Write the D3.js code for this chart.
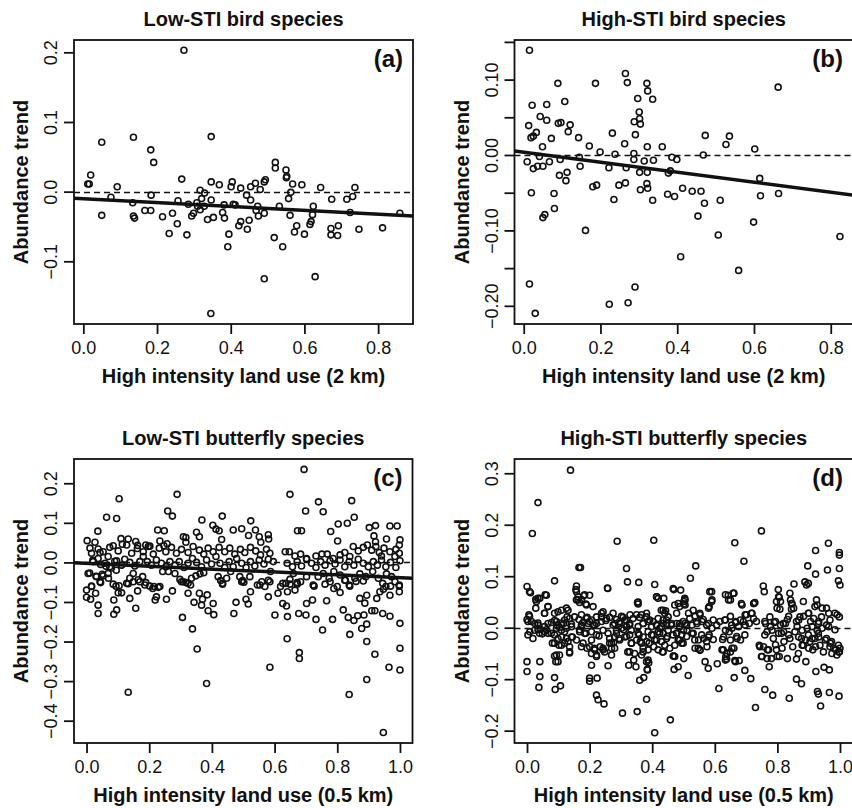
<!DOCTYPE html>
<html>
<head>
<meta charset="utf-8">
<script src="https://cdn.jsdelivr.net/npm/d3@7"></script>
<style>
  body { margin: 0; background: white; }
  svg { display: block; font-family: "Liberation Sans", Arial, Helvetica, sans-serif; }
</style>
</head>
<body>
<script>

// ---- data ----
var titles = ["Low-STI bird species", "High-STI bird species", "Low-STI butterfly species", "High-STI butterfly species"];
var tags = ["(a)", "(b)", "(c)", "(d)"];
var xLabels = ["High intensity land use (2 km)", "High intensity land use (2 km)",
               "High intensity land use (0.5 km)", "High intensity land use (0.5 km)"];
var yLabel = "Abundance trend";

var xTicksBird = [0, 0.2, 0.4, 0.6, 0.8];
var xTicksFly = [0, 0.2, 0.4, 0.6, 0.8, 1.0];
var yTicksA = [-0.1, 0, 0.1, 0.2];
var yTicksB = [-0.20, -0.15, -0.10, -0.05, 0, 0.05, 0.10, 0.15];
var yLabelledB = [-0.20, -0.10, 0, 0.10];
var yTicksC = [-0.4, -0.3, -0.2, -0.1, 0, 0.1, 0.2];
var yTicksD = [-0.2, -0.1, 0, 0.1, 0.2, 0.3];

// fitted lines: [intercept, slope]; panel d has none
var fitA = [-0.0102, -0.0277];
var fitB = [0.0038, -0.0665];
var fitC = [-0.0023, -0.0366];

var lowBird = [
[0.273,0.203],[0.050,0.071],[0.136,0.078],[0.347,0.079],[0.183,0.060],[0.191,0.042],[0.020,0.024],[0.012,0.011],[0.016,0.011],[0.092,0.007],
[0.267,0.018],[0.521,0.042],[0.521,0.034],[0.550,0.031],[0.552,0.022],[0.551,0.020],[0.568,0.011],[0.593,0.010],[0.644,0.006],[0.737,0.006],
[0.731,-0.007],[0.715,-0.011],[0.674,-0.011],[0.347,0.014],[0.369,0.010],[0.404,0.014],[0.401,0.007],[0.427,0.005],[0.454,0.007],[0.467,0.012],
[0.480,0.003],[0.491,0.014],[0.494,0.017],[0.317,0.002],[0.329,-0.002],[0.443,-0.005],[0.184,-0.005],[0.075,-0.008],[0.557,-0.010],[0.563,-0.001],
[0.134,-0.016],[0.050,-0.034],[0.136,-0.035],[0.139,-0.038],[0.167,-0.027],[0.183,-0.027],[0.215,-0.036],[0.242,-0.031],[0.255,-0.046],[0.233,-0.060],
[0.257,-0.013],[0.281,-0.062],[0.285,-0.018],[0.294,-0.035],[0.299,-0.031],[0.308,-0.016],[0.321,-0.010],[0.317,-0.026],[0.328,-0.021],[0.337,-0.040],
[0.347,-0.012],[0.353,-0.037],[0.382,-0.019],[0.378,-0.030],[0.383,-0.038],[0.395,-0.061],[0.392,-0.079],[0.407,-0.018],[0.412,-0.019],[0.422,-0.049],
[0.427,-0.043],[0.454,-0.012],[0.450,-0.041],[0.445,-0.054],[0.473,-0.021],[0.469,-0.027],[0.475,-0.035],[0.491,-0.031],[0.491,-0.125],[0.518,-0.066],
[0.532,-0.021],[0.541,-0.079],[0.561,-0.034],[0.579,-0.049],[0.573,-0.058],[0.600,-0.061],[0.624,-0.021],[0.622,-0.033],[0.618,-0.043],[0.615,-0.047],
[0.629,-0.122],[0.672,-0.053],[0.672,-0.062],[0.692,-0.049],[0.690,-0.063],[0.724,-0.030],[0.748,-0.054],[0.812,-0.052],[0.859,-0.031],[0.346,-0.175],
[0.310,-0.021]
];

var highBird = [
[0.015,0.139],[0.089,0.095],[0.187,0.095],[0.265,0.108],[0.270,0.096],[0.321,0.095],[0.323,0.085],[0.336,0.074],[0.297,0.075],[0.663,0.090],
[0.022,0.066],[0.060,0.067],[0.107,0.071],[0.043,0.051],[0.060,0.046],[0.090,0.042],[0.097,0.043],[0.121,0.040],[0.116,0.031],[0.013,0.039],
[0.019,0.023],[0.025,0.025],[0.033,0.030],[0.072,0.022],[0.049,0.011],[0.143,0.023],[0.171,0.012],[0.199,0.004],[0.231,0.029],[0.238,0.001],
[0.263,0.015],[0.288,0.044],[0.301,0.057],[0.302,0.048],[0.304,0.041],[0.291,0.027],[0.322,0.011],[0.361,0.011],[0.287,0.002],[0.473,0.026],
[0.536,0.025],[0.527,0.014],[0.602,0.008],[0.468,0.000],[0.009,-0.009],[0.041,-0.002],[0.095,-0.006],[0.067,-0.009],[0.025,-0.018],[0.036,-0.015],
[0.050,-0.015],[0.147,-0.015],[0.145,-0.003],[0.222,-0.017],[0.267,-0.017],[0.287,-0.006],[0.314,-0.008],[0.338,-0.007],[0.386,-0.003],[0.399,-0.006],
[0.093,-0.027],[0.113,-0.023],[0.110,-0.034],[0.302,-0.023],[0.322,-0.023],[0.382,-0.021],[0.377,-0.024],[0.615,-0.031],[0.180,-0.042],[0.190,-0.040],
[0.248,-0.040],[0.265,-0.037],[0.321,-0.038],[0.304,-0.046],[0.323,-0.044],[0.414,-0.044],[0.439,-0.048],[0.462,-0.048],[0.020,-0.050],[0.079,-0.051],
[0.375,-0.052],[0.393,-0.055],[0.617,-0.054],[0.664,-0.051],[0.235,-0.059],[0.336,-0.060],[0.512,-0.060],[0.080,-0.071],[0.050,-0.083],[0.055,-0.079],
[0.161,-0.100],[0.471,-0.064],[0.454,-0.081],[0.507,-0.106],[0.599,-0.089],[0.409,-0.135],[0.560,-0.153],[0.824,-0.108],[0.015,-0.171],[0.030,-0.210],
[0.223,-0.198],[0.272,-0.196],[0.290,-0.175]
];

var lowFly = [
[0.694,0.235],[0.104,0.161],[0.289,0.172],[0.649,0.172],[0.740,0.153],[0.699,0.130],[0.755,0.128],[0.846,0.156],[0.259,0.130],[0.274,0.117],
[0.064,0.114],[0.096,0.111],[0.368,0.107],[0.433,0.117],[0.524,0.105],[0.854,0.114],[0.803,0.097],[0.832,0.099],[0.403,0.094],[0.413,0.084],
[0.423,0.080],[0.036,0.079],[0.227,0.082],[0.248,0.080],[0.468,0.082],[0.495,0.085],[0.539,0.082],[0.673,0.080],[0.686,0.080],[0.779,0.078],
[0.902,0.088],[0.922,0.093],[0.968,0.092],[0.991,0.092],[0.351,0.076],[0.360,0.065],[0.517,0.068],[0.551,0.065],[0.580,0.070],[0.581,0.059],
[0.309,0.065],[0.317,0.063],[0.317,0.051],[0.431,0.058],[0.556,0.051],[0.917,0.067],[0.922,0.052],[0.957,0.059],[1.000,0.057],[0.998,0.044],
[0.801,0.054],[0.002,0.055],[0.027,0.051],[0.110,0.060],[0.133,0.059],[0.085,0.042],[0.114,0.046],[0.157,0.053],[0.163,0.043],[0.234,0.054],
[0.247,0.042],[0.257,0.047],[0.189,0.044],[0.202,0.041],[0.016,0.023],[0.037,0.034],[0.053,0.027],[0.069,0.015],
[0.011,0.036],[0.043,0.025],[0.074,0.038],[0.101,0.029],[0.128,0.044],[0.144,0.023],[0.162,0.035],[0.181,0.027],[0.197,0.040],[0.213,0.021],
[0.232,0.036],[0.253,0.027],[0.271,0.038],[0.287,0.023],[0.303,0.033],[0.324,0.025],[0.340,0.040],[0.360,0.031],[0.374,0.021],[0.388,0.036],
[0.404,0.027],[0.423,0.038],[0.441,0.027],[0.457,0.036],[0.473,0.021],[0.491,0.033],[0.505,0.025],[0.523,0.038],[0.540,0.029],[0.555,0.019],
[0.574,0.033],[0.585,0.023],[0.634,0.027],[0.647,0.027],[0.665,0.016],[0.683,0.021],[0.702,0.010],[0.732,0.016],[0.751,0.021],[0.768,0.021],
[0.787,0.010],[0.809,0.019],[0.824,0.025],[0.840,0.015],[0.851,0.040],[0.867,0.029],[0.883,0.038],[0.896,0.044],[0.910,0.031],[0.923,0.040],
[0.934,0.025],[0.949,0.036],[0.968,0.027],[0.987,0.033],[0.998,0.023],[0.941,0.016],[0.984,0.015],
[0.021,0.002],[0.037,0.010],[0.059,-0.002],[0.074,-0.011],[0.096,0.004],[0.112,-0.007],[0.122,0.008],[0.138,0.000],[0.154,-0.009],[0.170,0.002],
[0.181,0.015],[0.194,0.002],[0.207,-0.007],[0.223,0.006],[0.239,-0.002],[0.253,-0.011],[0.266,0.002],[0.282,-0.007],[0.296,0.002],[0.311,-0.013],
[0.324,-0.002],[0.338,0.010],[0.351,0.000],[0.367,-0.011],[0.383,0.006],[0.399,-0.004],[0.413,0.015],[0.426,-0.002],[0.441,-0.013],[0.455,0.002],
[0.468,-0.011],[0.479,0.010],[0.495,-0.002],[0.509,-0.013],[0.523,0.002],[0.537,-0.009],[0.551,0.006],[0.566,-0.004],[0.580,0.008],[0.596,0.002],
[0.640,-0.002],[0.657,-0.011],[0.672,0.002],[0.686,-0.009],[0.702,0.008],[0.718,-0.002],[0.732,-0.013],[0.747,0.002],[0.761,-0.007],[0.777,0.004],
[0.793,-0.004],[0.809,0.006],[0.824,-0.011],[0.838,0.002],[0.853,-0.007],[0.867,0.008],[0.883,-0.002],[0.899,-0.011],[0.915,0.002],[0.928,-0.007],
[0.941,0.006],[0.955,-0.011],[0.970,0.000],[0.987,-0.013],[1.000,0.004],
[0.020,0.005],[0.045,-0.005],[0.062,-0.010],[0.079,-0.014],[0.090,0.003],[0.095,-0.020],[0.010,-0.027],[0.030,-0.035],[0.050,-0.030],[0.070,-0.040],
[0.005,-0.028],[0.016,-0.061],[0.032,-0.036],[0.043,-0.049],[0.053,-0.034],[0.069,-0.028],[0.085,-0.055],[0.094,-0.060],[0.104,-0.059],[0.128,-0.053],
[0.138,-0.040],[0.149,-0.028],[0.165,-0.044],[0.179,-0.036],[0.186,-0.057],[0.202,-0.060],[0.215,-0.061],[0.234,-0.061],[0.243,-0.023],[0.261,-0.023],
[0.282,-0.028],[0.298,-0.043],[0.309,-0.049],[0.324,-0.053],[0.335,-0.040],[0.349,-0.034],[0.362,-0.029],[0.374,-0.026],[0.420,-0.036],[0.428,-0.046],
[0.434,-0.055],[0.447,-0.040],[0.460,-0.023],[0.489,-0.036],[0.498,-0.046],[0.502,-0.050],[0.521,-0.036],[0.545,-0.057],[0.559,-0.049],[0.580,-0.045],
[0.587,-0.023],[0.619,-0.061],[0.636,-0.053],[0.649,-0.043],[0.660,-0.028],[0.672,-0.055],[0.683,-0.049],[0.702,-0.036],[0.723,-0.057],[0.739,-0.036],
[0.755,-0.028],[0.774,-0.040],[0.789,-0.023],[0.809,-0.032],[0.826,-0.045],[0.838,-0.057],[0.856,-0.040],[0.872,-0.029],[0.891,-0.036],[0.913,-0.023],
[0.931,-0.040],[0.945,-0.053],[0.957,-0.029],[0.973,-0.036],[0.984,-0.049],[0.998,-0.057],
[0.000,-0.070],[0.000,-0.088],[0.013,-0.093],[0.016,-0.060],[0.029,-0.078],[0.037,-0.108],[0.037,-0.129],[0.045,-0.051],[0.101,-0.077],[0.112,-0.077],
[0.087,-0.095],[0.087,-0.131],[0.096,-0.120],[0.133,-0.054],[0.138,-0.091],[0.157,-0.116],[0.163,-0.072],[0.133,-0.328],[0.149,-0.049],[0.170,-0.049],
[0.189,-0.051],[0.211,-0.066],[0.219,-0.095],[0.223,-0.087],[0.229,-0.063],[0.255,-0.093],[0.274,-0.072],[0.306,-0.139],[0.338,-0.168],[0.353,-0.219],
[0.383,-0.306],[0.303,-0.049],[0.317,-0.051],[0.324,-0.078],[0.332,-0.057],[0.343,-0.101],[0.360,-0.078],[0.370,-0.093],[0.367,-0.108],[0.385,-0.082],
[0.388,-0.122],[0.404,-0.104],[0.406,-0.132],[0.434,-0.053],[0.470,-0.129],[0.477,-0.101],[0.495,-0.049],[0.509,-0.093],[0.516,-0.105],[0.523,-0.074],
[0.553,-0.057],[0.569,-0.061],[0.580,-0.087],[0.585,-0.049],[0.585,-0.265],[0.601,-0.133],[0.611,-0.078],[0.626,-0.104],[0.626,-0.053],[0.638,-0.110],
[0.641,-0.074],[0.641,-0.137],[0.649,-0.055],[0.665,-0.070],[0.672,-0.051],[0.640,-0.193],[0.677,-0.129],[0.679,-0.228],[0.679,-0.243],[0.702,-0.104],
[0.700,-0.133],[0.721,-0.095],[0.726,-0.060],[0.732,-0.144],[0.753,-0.171],[0.766,-0.097],[0.761,-0.055],[0.777,-0.049],[0.785,-0.144],[0.789,-0.066],
[0.800,-0.061],[0.809,-0.076],[0.819,-0.120],[0.835,-0.139],[0.840,-0.182],[0.838,-0.334],[0.840,-0.060],[0.853,-0.147],[0.865,-0.135],[0.872,-0.091],
[0.878,-0.167],[0.885,-0.133],[0.888,-0.103],[0.894,-0.156],[0.894,-0.200],[0.894,-0.296],[0.894,-0.083],[0.910,-0.122],[0.920,-0.122],[0.920,-0.232],
[0.926,-0.091],[0.936,-0.074],[0.947,-0.068],[0.945,-0.129],[0.947,-0.430],[0.955,-0.061],[0.968,-0.083],[0.970,-0.060],[0.968,-0.136],[0.965,-0.265],
[0.998,-0.060],[0.998,-0.074],[1.000,-0.154],[1.000,-0.217],[1.000,-0.272],[0.824,-0.045],[0.860,-0.048],[0.883,-0.047]
];

var highFly = [
[0.139,0.306],[0.035,0.243],[0.017,0.183],[0.288,0.168],[0.405,0.170],[0.664,0.165],[0.749,0.188],[0.693,0.129],[0.963,0.164],[0.922,0.150],
[0.998,0.146],[0.998,0.141],[0.998,0.115],[0.960,0.112],[0.897,0.120],[0.922,0.104],[0.539,0.120],[0.522,0.096],[0.318,0.115],[0.166,0.117],
[0.171,0.117],[0.088,0.091],[0.321,0.089],[0.357,0.088],[0.408,0.084],[0.158,0.081],[0.000,0.080],[0.257,0.077],[0.469,0.074],[0.491,0.073],
[0.590,0.070],[0.659,0.067],[0.755,0.081],[0.803,0.074],[0.853,0.085],[0.888,0.089],[0.899,0.086],[0.893,0.083],[0.995,0.091],[1.000,0.083],
[0.011,0.068],[0.028,0.055],[0.041,0.057],[0.062,0.063],[0.028,0.038],[0.067,0.041],[0.056,0.028],[0.156,0.074],[0.158,0.054],[0.163,0.054],
[0.168,0.049],[0.181,0.062],[0.200,0.063],[0.188,0.046],[0.258,0.076],[0.353,0.049],[0.355,0.046],[0.414,0.060],[0.437,0.057],[0.429,0.034],
[0.443,0.033],[0.467,0.076],
[0.000,0.016],[0.006,0.025],[0.014,0.012],[0.009,-0.008],[0.025,0.008],[0.035,0.005],[0.043,-0.003],[0.056,0.002],[0.067,0.008],[0.078,0.010],
[0.088,0.014],[0.096,0.005],[0.104,0.001],[0.117,0.008],[0.128,0.021],[0.131,0.034],[0.142,0.007],[0.152,0.021],[0.166,0.016],[0.174,0.005],
[0.179,0.010],[0.192,0.020],[0.200,0.012],[0.211,0.005],[0.222,0.008],[0.238,0.021],[0.243,0.031],[0.252,0.014],[0.264,0.020],[0.275,0.005],
[0.286,0.016],[0.296,0.008],[0.307,0.020],[0.318,0.014],[0.328,0.005],[0.339,0.018],[0.350,0.025],[0.360,0.020],[0.371,0.008],[0.382,0.021],
[0.392,0.015],[0.403,0.012],[0.414,0.005],[0.424,-0.001],[0.435,0.008],[0.446,0.015],[0.462,0.008],[0.472,0.044],[0.478,0.028],[0.488,0.008],
[0.501,0.051],[0.501,0.046],[0.504,0.057],[0.510,0.005],[0.520,0.018],[0.531,0.034],[0.542,0.012],[0.552,0.028],[0.563,0.016],[0.574,0.005],
[0.582,0.041],[0.590,0.051],[0.584,0.070],[0.595,0.015],[0.606,0.005],[0.616,0.012],[0.632,0.015],[0.643,0.063],[0.650,0.054],[0.661,0.067],
[0.654,0.005],[0.667,0.010],[0.685,0.047],[0.691,0.012],[0.701,0.025],[0.710,0.008],[0.717,0.028],[0.725,0.047],[0.728,0.049],[0.733,0.012],
[0.758,0.070],[0.760,0.012],[0.776,0.021],[0.790,0.010],[0.797,0.051],[0.806,0.059],[0.808,0.036],[0.819,0.008],[0.832,0.016],[0.840,0.067],
[0.842,0.054],[0.845,0.047],[0.845,0.036],[0.861,0.012],[0.872,0.021],[0.883,0.051],[0.899,0.028],[0.906,0.012],[0.920,0.041],[0.925,0.054],
[0.931,0.008],[0.941,0.021],[0.957,0.038],[0.968,0.015],[0.984,0.028],[0.998,0.021],[0.957,0.005],
[0.003,-0.014],[0.019,-0.021],[0.035,-0.004],[0.049,-0.012],[0.062,-0.004],[0.078,-0.011],[0.081,-0.030],[0.088,-0.055],[0.092,-0.066],[0.099,-0.021],
[0.102,-0.034],[0.104,-0.053],[0.120,-0.008],[0.131,-0.027],[0.136,-0.049],[0.145,-0.018],[0.158,-0.024],[0.168,-0.004],[0.174,-0.037],[0.188,-0.011],
[0.192,-0.040],[0.206,-0.024],[0.206,-0.073],[0.216,-0.040],[0.222,-0.053],[0.230,-0.016],[0.234,-0.037],[0.243,-0.043],[0.259,-0.074],[0.264,-0.021],
[0.270,-0.040],[0.277,-0.029],[0.286,-0.011],[0.294,-0.021],[0.309,-0.004],[0.318,-0.017],[0.322,-0.047],[0.325,-0.073],[0.334,-0.030],[0.341,-0.063],
[0.348,-0.076],[0.358,-0.014],[0.362,-0.027],[0.371,-0.047],[0.382,-0.066],[0.385,-0.082],[0.390,-0.030],[0.398,-0.014],[0.405,-0.037],[0.414,-0.024],
[0.424,-0.011],[0.433,-0.047],[0.440,-0.034],[0.448,-0.017],[0.467,-0.055],[0.472,-0.034],[0.478,-0.011],[0.488,-0.024],[0.494,-0.030],[0.501,-0.060],
[0.510,-0.017],[0.531,-0.011],[0.536,-0.024],[0.547,-0.040],[0.552,-0.043],[0.558,-0.014],[0.569,-0.066],[0.574,-0.027],[0.579,-0.079],[0.582,-0.014],
[0.595,-0.023],[0.608,-0.070],[0.625,-0.023],[0.627,-0.043],[0.635,-0.056],[0.638,-0.061],[0.646,-0.008],[0.650,-0.047],[0.661,-0.040],[0.664,-0.064],
[0.670,-0.017],[0.678,-0.064],[0.682,-0.024],[0.696,-0.014],[0.742,-0.034],[0.744,-0.037],[0.749,-0.056],[0.760,-0.014],[0.768,-0.043],[0.774,-0.076],
[0.781,-0.060],[0.787,-0.021],[0.797,-0.043],[0.806,-0.056],[0.813,-0.011],[0.821,-0.027],[0.832,-0.060],[0.840,-0.021],[0.849,-0.037],[0.856,-0.008],
[0.861,-0.061],[0.867,-0.050],[0.877,-0.021],[0.883,-0.034],[0.891,-0.066],[0.899,-0.014],[0.904,-0.027],[0.913,-0.043],[0.920,-0.021],[0.931,-0.011],
[0.936,-0.034],[0.947,-0.047],[0.957,-0.021],[0.968,-0.037],[0.973,-0.027],[0.987,-0.043],[0.995,-0.034],[0.998,-0.047],[1.000,-0.040],[0.984,-0.004],
[0.000,-0.066],[0.000,-0.085],[0.041,-0.066],[0.041,-0.095],[0.038,-0.116],[0.088,-0.097],[0.090,-0.120],[0.107,-0.113],[0.200,-0.098],[0.200,-0.104],
[0.224,-0.098],[0.222,-0.131],[0.227,-0.140],[0.246,-0.148],[0.305,-0.166],[0.352,-0.163],[0.360,-0.102],[0.373,-0.097],[0.384,-0.081],[0.389,-0.068],
[0.382,-0.139],[0.408,-0.204],[0.458,-0.179],[0.470,-0.081],[0.469,-0.055],[0.515,-0.093],[0.613,-0.118],[0.662,-0.097],[0.696,-0.083],[0.715,-0.099],
[0.730,-0.155],[0.760,-0.120],[0.785,-0.131],[0.838,-0.137],[0.861,-0.100],[0.877,-0.109],[0.923,-0.085],[0.928,-0.124],[0.931,-0.129],[0.938,-0.152],
[0.949,-0.077],[0.966,-0.082],[0.966,-0.126],[0.997,-0.133],
[0.008,0.070],[0.035,0.057],[0.030,0.051],[0.058,0.064],[0.067,0.041],[0.056,0.028],[0.008,0.022],[0.003,0.012],[0.035,0.009],[0.088,0.028],
[0.099,0.031],[0.110,0.034],[0.126,0.038],[0.094,0.012],[0.110,0.009],[0.120,0.015],[0.136,0.018],[0.094,-0.001],[0.110,-0.005],[0.126,-0.001],
[0.142,0.002],[0.024,-0.005],[0.040,-0.011],[0.056,-0.008],[0.067,-0.011],[0.088,-0.014],[0.110,-0.018],[0.126,-0.021],[0.142,-0.018],[0.088,-0.030],
[0.110,-0.034],[0.120,-0.030],[0.136,-0.037],[0.094,-0.053],[0.099,-0.066],[0.136,-0.047],[0.158,0.070],[0.163,0.060],[0.174,0.054],[0.184,0.064],
[0.190,0.044],[0.211,0.041],[0.174,0.025],[0.190,0.018],[0.206,0.015],[0.222,0.021],[0.238,0.028],[0.174,0.002],[0.195,0.008],[0.216,0.005],
[0.238,0.012],[0.254,0.018],[0.168,-0.008],[0.184,-0.011],[0.206,-0.008],[0.222,-0.014],[0.243,-0.005],[0.259,-0.011],[0.179,-0.030],[0.200,-0.037],
[0.216,-0.043],[0.243,-0.040],[0.264,-0.030],[0.206,-0.050],[0.222,-0.056],[0.248,-0.047],[0.270,-0.053],[0.275,0.028],[0.302,0.022],[0.329,0.025],
[0.280,0.008],[0.296,0.012],[0.312,0.015],[0.328,0.008],[0.286,-0.005],[0.302,-0.001],[0.318,0.002],[0.333,-0.005],[0.280,-0.018],[0.296,-0.024],
[0.312,-0.018],[0.328,-0.014],[0.270,-0.030],[0.280,-0.040],[0.333,-0.030],[0.328,-0.047],[0.344,-0.050],[0.355,0.050],[0.366,0.025],[0.382,0.028],
[0.355,0.002],[0.371,0.008],[0.387,0.012],[0.398,0.002],[0.355,-0.011],[0.371,-0.018],[0.387,-0.008],[0.403,-0.014],[0.350,-0.024],[0.366,-0.030],
[0.382,-0.027],[0.371,-0.040],[0.387,-0.043],[0.366,-0.053],[0.387,-0.063],[0.414,0.060],[0.419,0.057],[0.435,0.034],[0.440,0.028],[0.419,0.018],
[0.435,0.015],[0.451,0.021],[0.414,0.005],[0.430,0.002],[0.446,0.008],[0.462,0.005],[0.419,-0.008],[0.435,-0.011],[0.451,-0.005],[0.467,-0.014],
[0.408,-0.024],[0.430,-0.027],[0.446,-0.021],[0.419,-0.043],[0.435,-0.047],[0.456,-0.040],[0.478,0.008],[0.488,0.002],[0.499,0.012],[0.478,-0.011],
[0.494,-0.014],[0.483,0.047],[0.488,0.041],[0.483,-0.024],[0.499,-0.030],[0.472,-0.056],[0.483,-0.076],
[0.505,0.054],[0.505,0.044],[0.516,0.028],[0.537,0.022],[0.553,0.025],[0.527,0.005],[0.543,0.008],[0.559,0.012],[0.511,-0.005],[0.527,-0.011],
[0.548,-0.024],[0.564,-0.021],[0.580,-0.018],[0.537,-0.040],[0.553,-0.044],[0.575,-0.037],[0.580,0.038],[0.591,0.054],[0.580,0.008],[0.591,-0.001],
[0.634,0.064],[0.644,0.054],[0.660,0.067],[0.634,0.015],[0.650,0.022],[0.666,0.012],[0.682,0.015],[0.697,0.025],[0.719,0.028],[0.724,0.018],
[0.634,-0.005],[0.655,-0.001],[0.676,0.002],[0.697,0.005],[0.628,-0.018],[0.650,-0.024],[0.671,-0.021],[0.623,-0.043],[0.639,-0.050],[0.655,-0.040],
[0.634,-0.063],[0.666,-0.066],[0.687,0.044],[0.724,0.047],[0.762,0.008],[0.778,0.002],[0.794,0.012],[0.810,0.005],[0.826,0.008],[0.767,-0.008],
[0.783,-0.005],[0.804,-0.011],[0.820,-0.008],[0.836,-0.014],[0.756,-0.037],[0.772,-0.043],[0.794,-0.033],[0.815,-0.040],[0.751,-0.056],[0.767,-0.060],
[0.799,-0.056],[0.804,0.060],[0.810,0.051],[0.799,0.038],[0.847,0.047],[0.852,0.038],[0.836,0.022],[0.868,0.015],[0.884,0.022],[0.900,0.028],
[0.916,0.018],[0.932,0.012],[0.863,0.002],[0.879,-0.005],[0.895,-0.001],[0.911,0.002],[0.927,-0.005],[0.943,-0.001],[0.964,0.002],[0.868,-0.018],
[0.890,-0.024],[0.911,-0.021],[0.932,-0.018],[0.953,-0.024],[0.879,-0.034],[0.900,-0.040],[0.922,-0.037],[0.969,-0.030],[0.980,-0.040],[0.996,-0.047],
[0.974,-0.050],[0.990,-0.053],[0.927,0.044],[0.943,0.038],[0.964,0.028],[0.991,0.025],[0.505,0.008],[0.500,-0.005]
];

// ---- layout ----
var W = 852, H = 808;
var ink = "#111";

var svg = d3.select("body").append("svg")
  .attr("width", W)
  .attr("height", H);

var panels = [
  {k: 0, pts: lowBird,  fit: fitA, l: 74,    r: 413,   t: 40,  b: 324, xDom: [-0.0253, 0.8946], yDom: [-0.190, 0.2177],
   xTicks: xTicksBird, yTicks: yTicksA, yFmt: d3.format(".1f")},
  {k: 1, pts: highBird, fit: fitB, l: 514.5, r: 853,   t: 40,  b: 324, xDom: [-0.024, 0.858],   yDom: [-0.2241, 0.1525],
   xTicks: xTicksBird, yTicks: yTicksB, yFmt: function(d){ return yLabelledB.some(function(v){ return Math.abs(v - d) < 1e-9; }) ? d3.format(".2f")(d) : ""; }},
  {k: 2, pts: lowFly,   fit: fitC, l: 74,    r: 412.5, t: 459, b: 743, xDom: [-0.04, 1.04],     yDom: [-0.4564, 0.2613],
   xTicks: xTicksFly, yTicks: yTicksC, yFmt: d3.format(".1f")},
  {k: 3, pts: highFly,  fit: null, l: 514.5, r: 853,   t: 459, b: 743, xDom: [-0.04, 1.0416],   yDom: [-0.2240, 0.3277],
   xTicks: xTicksFly, yTicks: yTicksD, yFmt: d3.format(".1f")}
];

var drawPanel = function (p) {
  var g = svg.append("g");

  var x = d3.scaleLinear().domain(p.xDom).range([p.l, p.r]);
  var y = d3.scaleLinear().domain(p.yDom).range([p.b, p.t]);

  svg.append("clipPath").attr("id", "clip" + p.k)
    .append("rect")
    .attr("x", p.l).attr("y", p.t)
    .attr("width", p.r - p.l).attr("height", p.b - p.t);

  var plot = g.append("g").attr("clip-path", "url(#clip" + p.k + ")");

  // dashed zero line
  plot.append("line")
    .attr("x1", p.l).attr("x2", p.r)
    .attr("y1", Math.round(y(0)) + 0.5).attr("y2", Math.round(y(0)) + 0.5)
    .attr("stroke", ink).attr("stroke-width", 1.3)
    .attr("stroke-dasharray", "6,4");

  plot.selectAll(".pt")
    .data(p.pts)
  .enter().append("circle")
    .attr("class", "pt")
    .attr("cx", function(d){ return x(d[0]); })
    .attr("cy", function(d){ return y(d[1]); })
    .attr("r", 3)
    .attr("fill", "none")
    .attr("stroke", ink)
    .attr("stroke-width", 1.6);

  if (p.fit) {
    var x0 = p.xDom[0], x1 = p.xDom[1];
    plot.append("line")
      .attr("x1", x(x0)).attr("y1", y(p.fit[0] + p.fit[1] * x0))
      .attr("x2", x(x1)).attr("y2", y(p.fit[0] + p.fit[1] * x1))
      .attr("stroke", ink).attr("stroke-width", 3.5);
  }

  // box
  g.append("rect")
    .attr("x", p.l).attr("y", p.t)
    .attr("width", p.r - p.l).attr("height", p.b - p.t)
    .attr("fill", "none").attr("stroke", ink).attr("stroke-width", 1.8);

  // x axis
  var xa = g.append("g")
    .attr("transform", "translate(0," + p.b + ")")
    .call(d3.axisBottom(x).tickValues(p.xTicks).tickFormat(d3.format(".1f"))
      .tickSize(10).tickSizeOuter(0).tickPadding(7));
  xa.select(".domain").remove();
  xa.attr("font-size", 18).attr("font-family", null);
  xa.selectAll("line").attr("stroke", ink).attr("stroke-width", 1.8);
  xa.selectAll("text").attr("fill", ink);

  // y axis, labels turned like base R
  var ya = g.append("g")
    .attr("transform", "translate(" + p.l + ",0)")
    .call(d3.axisLeft(y).tickValues(p.yTicks).tickFormat(p.yFmt)
      .tickSize(10).tickSizeOuter(0));
  ya.select(".domain").remove();
  ya.attr("font-size", 18).attr("font-family", null);
  ya.selectAll("line").attr("stroke", ink).attr("stroke-width", 1.8);
  ya.selectAll("text")
    .attr("fill", ink)
    .attr("x", 0).attr("y", -17).attr("dy", null)
    .attr("text-anchor", "middle")
    .attr("transform", "rotate(-90)");

  var cx = (p.l + p.r) / 2;

  g.append("text")
    .attr("x", cx).attr("y", p.t - 14)
    .attr("text-anchor", "middle")
    .attr("font-size", 20).attr("font-weight", "bold").attr("fill", ink)
    .text(titles[p.k]);

  g.append("text")
    .attr("x", cx).attr("y", p.b + 58.5)
    .attr("text-anchor", "middle")
    .attr("font-size", 20).attr("font-weight", "bold").attr("fill", ink)
    .text(xLabels[p.k]);

  g.append("text")
    .attr("transform", "translate(" + (p.l - 46) + "," + ((p.t + p.b) / 2) + ") rotate(-90)")
    .attr("text-anchor", "middle")
    .attr("font-size", 20).attr("font-weight", "bold").attr("fill", ink)
    .text(yLabel);

  g.append("text")
    .attr("x", Math.min(p.r, 853) - 10).attr("y", p.t + 27)
    .attr("text-anchor", "end")
    .attr("font-size", 24).attr("font-weight", "bold").attr("fill", ink)
    .text(tags[p.k]);
};

panels.forEach(drawPanel);

</script>
</body>
</html>
